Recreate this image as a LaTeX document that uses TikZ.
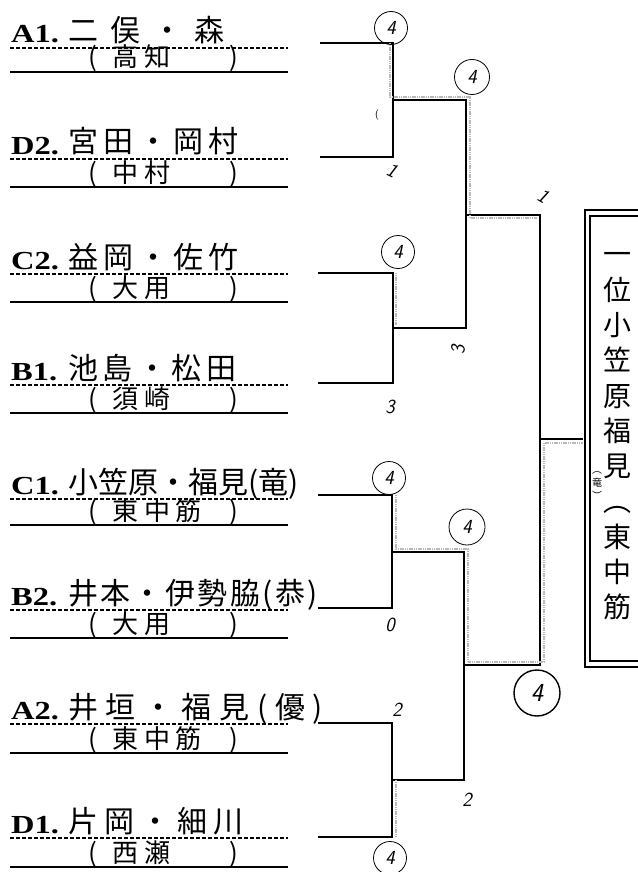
\documentclass[tikz,border=0pt]{standalone}
\usepackage{fontspec}
\usepackage{graphicx}
\usepackage{tikz}
\usetikzlibrary{positioning}
\newfontfamily\jpfont{Noto Sans CJK JP}
\newfontfamily\labfont{Liberation Serif}
\newcommand\spaced[2]{\edef\spc{\noexpand\addfontfeature{LetterSpace=#1}}\spc #2}

\begin{document}
\begin{tikzpicture}[x=1pt,y=-1pt,
  lbl/.style={font=\labfont\bfseries\fontsize{26}{26}\selectfont, inner sep=0},
  nm/.style={font=\jpfont\fontsize{30}{30}\selectfont, inner sep=0},
  sc/.style={font=\jpfont\fontsize{26}{26}\selectfont, inner sep=0},
  dl/.style={line width=1.6pt, dash pattern=on 4pt off 2pt},
  ul/.style={line width=2pt},
  bk/.style={line width=2pt},
  hl/.style={gray!55, line width=1.5pt, dash pattern=on 1.2pt off 0.6pt},
  pt/.style={font=\sffamily\itshape\fontsize{20}{20}\selectfont, inner sep=1pt},
  won/.style={pt, circle, draw, line width=0.8pt, minimum size=33pt, inner sep=0},
  ttl/.style={font=\jpfont\fontsize{28}{35.3}\selectfont, align=center, inner sep=0}]
\useasboundingbox (0,0) rectangle (637,872);

% entries
\foreach \lab/\nam/\sch/\yy/\zz/\ls [count=\i] in {
  A1./二俣・森/高知/48/72/40,
  D2./宮田・岡村/中村/159/187/17,
  C2./益岡・佐竹/大用/274/302/17,
  B1./池島・松田/須崎/385/413/15,
  C1./小笠原・福見(竜)/東中筋/499/525/0,
  B2./井本・伊勢脇(恭)/大用/610/638/8,
  A2./井垣・福見(優)/東中筋/724/753/26,
  D1./片岡・細川/西瀬/838/867/21}{
  \node[lbl, anchor=base west] (l\i) at (11,\yy-5) {\scalebox{1.25}[1]{\lab}};
  \node[nm, anchor=base west] (n\i) at (68,\yy-6) {\spaced{\ls}{\nam}};
  \node[sc, anchor=base west] (c\i) at (88,\zz-5) {\makebox[150pt][l]{(\hspace{16pt}\spaced{20}{\sch}\hfill)}};
  \draw[dl] (10,\yy) -- (288,\yy);
  \draw[ul] (10,\zz) -- (288,\zz);
}

% bracket
\coordinate (s1) at (320,43);
\coordinate (s2) at (320,157);
\coordinate (s3) at (318,273);
\coordinate (s4) at (318,383);
\coordinate (s5) at (318,495);
\coordinate (s6) at (318,608);
\coordinate (s7) at (318,723);
\coordinate (s8) at (318,837);
\coordinate (r1) at (393,100);
\coordinate (r2) at (393,328);
\coordinate (r3) at (392,552);
\coordinate (r4) at (392,780);
\coordinate (u1) at (466,215);
\coordinate (u2) at (464,665);
\coordinate (f) at (540,439);

\node[draw, double, line width=2pt, double distance=3.5pt, minimum width=120pt, minimum height=451pt, inner sep=0] (box) at (647.5,438.5) {};

\draw[bk] (s1) -| (r1) |- (s2);
\draw[bk] (s3) -| (r2) |- (s4);
\draw[bk] (s5) -| (r3) |- (s6);
\draw[bk] (s7) -| (r4) |- (s8);
\draw[bk] (r1) -| (u1) |- (r2);
\draw[bk] (r3) -| (u2) |- (r4);
\draw[bk] (u1) -| (f) |- (u2);
\draw[bk] (f) -- ([xshift=-3.75pt]f -| box.west);

% winners
\draw[hl] ([xshift=-3pt]r1 |- s1) -- ([shift={(-3pt,3pt)}]r1) -- ([shift={(4pt,3pt)}]u1 |- r1) -- ([shift={(4pt,-3pt)}]u1) -- ([shift={(-3pt,-3pt)}]f |- u1);
\draw[hl] ([xshift=3pt]r2 |- s3) -- ([shift={(3pt,3pt)}]r2);
\draw[hl] ([xshift=4pt]r3 |- s5) -- ([shift={(4pt,3pt)}]r3) -- ([shift={(4pt,3pt)}]u2 |- r3) -- ([shift={(4pt,3pt)}]u2) -- ([shift={(4pt,3pt)}]f |- u2) -- ([shift={(4pt,-4pt)}]f) -- ([shift={(-4pt,-4pt)}]f -| box.west);
\draw[hl] ([xshift=4pt]r4) -- ([xshift=4pt]r4 |- s8);

% scores
\node[won] (w1) at (391,28) {4};
\node[won, minimum size=35pt] (w2) at (472,77) {4};
\node[pt, font=\sffamily\fontsize{10}{10}\selectfont] (p1) at (377,115) {(};
\node[pt, rotate=-25] (p2) at (392,170) {1};
\node[pt, rotate=-30] (p3) at (543,196) {1};
\node[won] (w3) at (398,252) {4};
\node[pt, rotate=90] (p4) at (458,350) {3};
\node[pt] (p5) at (390,407) {3};
\node[won] (w4) at (389,478) {4};
\node[won, minimum size=36pt] (w5) at (467,527) {4};
\node[pt] (p6) at (390,625) {0};
\node[pt] (p7) at (397,710) {2};
\node[won, minimum size=46pt, line width=1.4pt, font=\sffamily\itshape\fontsize{26}{26}\selectfont] (w6) at (537,693) {4};
\node[pt] (p8) at (467,800) {2};
\node[won] (w7) at (390,858) {4};

% champion
\node[ttl] (ttl) at (617,436.5) {一\\位\\小\\笠\\原\\福\\見\\︵\\東\\中\\筋};
\node[ttl, font=\jpfont\fontsize{10}{13}\selectfont] (ryu) at (597,486) {︵\\竜\\︶};
\end{tikzpicture}
\end{document}
